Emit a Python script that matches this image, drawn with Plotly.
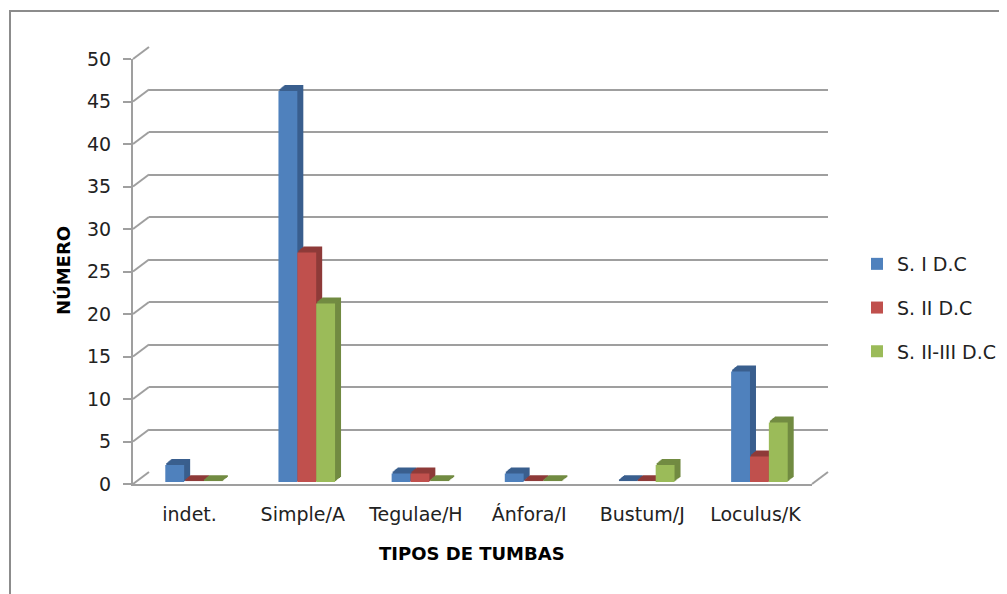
import plotly.graph_objects as go

# data
categories = ['indet.', 'Simple/A', 'Tegulae/H', 'Ánfora/I', 'Bustum/J', 'Loculus/K']
s_i = [2, 46, 1, 1, 0, 13]
s_ii = [0, 27, 1, 0, 0, 3]
s_ii_iii = [0, 21, 0, 0, 2, 7]
series_names = ['S. I D.C', 'S. II D.C', 'S. II-III D.C']
y_ticks = [0, 5, 10, 15, 20, 25, 30, 35, 40, 45, 50]

face_colors = ['#4F81BD', '#C0504D', '#9BBB59']
side_colors = ['#3A5F8E', '#8E3B39', '#728B42']
GRID = '#9F9F9F'
FONT = 'DejaVu Sans'
TXT = '#222222'

PAGE_W, PAGE_H = 1007, 594
OFF = 8  # page body margin
W, H = PAGE_W - OFF, PAGE_H - OFF
Y_MAX = 50
SLAB = 0.15  # so zero-height columns still show their top face


def px(x):
    return (x - OFF) / W


def py(y):
    return 1 - (y - OFF) / H


# page-pixel boxes of the pseudo-3D planes (left, right, y of 0, y of 50)
FRONT = (133, 812, 484, 59)
BACK = (149, 828, 472, 47)
FACE = (137, 816, 482, 57)
DEPTH = 6  # column extrusion in px


def dom(box, dx=0.0, dy=0.0):
    x0, x1, yb, yt = box
    return [px(x0 + dx), px(x1 + dx)], [py(yb + dy), py(yt + dy)]


def y_at(box, v):
    x0, x1, yb, yt = box
    return yb - (yb - yt) * v / Y_MAX


def cat_axis(domain, anchor, **kw):
    return dict(domain=domain, anchor=anchor, type='category', categoryorder='array',
                categoryarray=categories, range=[-0.5, len(categories) - 0.5], **kw)


def holder(n):
    # invisible trace so an axis pair without bars still gets drawn
    return go.Scatter(x=categories, y=s_i, mode='markers', marker=dict(opacity=0),
                      xaxis=f'x{n}', yaxis=f'y{n}', showlegend=False, hoverinfo='skip')


fig = go.Figure()
layout = {}
all_series = [s_i, s_ii, s_ii_iii]

# 1: back wall with gridlines
xd, yd = dom(BACK)
layout['xaxis'] = cat_axis(xd, 'y', visible=False)
layout['yaxis'] = dict(domain=yd, anchor='x', range=[0, Y_MAX], tickvals=y_ticks,
                       showgrid=True, gridcolor=GRID, gridwidth=2, zeroline=False,
                       showticklabels=False, ticks='', showline=False)
fig.add_trace(holder(''))

# 2..7: extrusion layers, deepest first
n = 2
for k in range(DEPTH, 0, -1):
    xd, yd = dom(FACE, dx=k, dy=-0.8 * k)
    layout[f'xaxis{n}'] = cat_axis(xd, f'y{n}', visible=False)
    layout[f'yaxis{n}'] = dict(domain=yd, anchor=f'x{n}', visible=False, range=[0, Y_MAX])
    for vals, name, col in zip(all_series, series_names, side_colors):
        fig.add_trace(go.Bar(
            x=categories, y=[v + SLAB for v in vals], name=name,
            marker=dict(color=col, line=dict(width=0)),
            xaxis=f'x{n}', yaxis=f'y{n}', showlegend=False, hoverinfo='skip'
        ))
    n += 1

# 8: front faces of the columns
xd, yd = dom(FACE)
layout[f'xaxis{n}'] = cat_axis(xd, f'y{n}', visible=False)
layout[f'yaxis{n}'] = dict(domain=yd, anchor=f'x{n}', visible=False, range=[0, Y_MAX])
for vals, name, col in zip(all_series, series_names, face_colors):
    fig.add_trace(go.Bar(
        x=categories, y=vals, name=name, legendgroup=name,
        marker=dict(color=col, line=dict(width=0)),
        xaxis=f'x{n}', yaxis=f'y{n}',
        hovertemplate='%{x}<br>' + name + ': %{y}<extra></extra>'
    ))
n += 1

# 9: front axes carrying ticks and labels
xd, yd = dom(FRONT)
layout[f'xaxis{n}'] = cat_axis(xd, f'y{n}', showline=True, linecolor=GRID, linewidth=2,
                               ticks='', showgrid=False, zeroline=False, ticklabelstandoff=12,
                               automargin=False,
                               tickfont=dict(family=FONT, size=19, color=TXT))
layout[f'yaxis{n}'] = dict(domain=yd, anchor=f'x{n}', range=[0, Y_MAX], tickvals=y_ticks,
                           showline=True, linecolor=GRID, linewidth=2,
                           ticks='outside', ticklen=8, tickwidth=2, tickcolor=GRID,
                           showgrid=False, zeroline=False, ticklabelstandoff=8,
                           automargin=False,
                           tickfont=dict(family=FONT, size=19, color=TXT))
fig.add_trace(holder(n))

# diagonal connectors between front axis and back wall
shapes = []
for v in y_ticks:
    shapes.append(dict(type='line', xref='paper', yref='paper',
                       x0=px(FRONT[0]), y0=py(y_at(FRONT, v)),
                       x1=px(BACK[0]), y1=py(y_at(BACK, v)),
                       line=dict(color=GRID, width=2)))
shapes.append(dict(type='line', xref='paper', yref='paper',
                   x0=px(FRONT[1]), y0=py(FRONT[2]), x1=px(BACK[1]), y1=py(BACK[2]),
                   line=dict(color=GRID, width=2)))
# chart area border
shapes.append(dict(type='rect', xref='paper', yref='paper',
                   x0=px(10), y0=py(11), x1=px(1015), y1=py(605),
                   line=dict(color='#8C8C8C', width=2), layer='below'))

fig.update_layout(
    **layout,
    width=W, height=H, autosize=False,
    margin=dict(l=0, r=0, t=0, b=0, autoexpand=False),
    paper_bgcolor='white', plot_bgcolor='rgba(0,0,0,0)',
    barmode='group', bargap=0.5, bargroupgap=0,
    shapes=shapes,
    annotations=[
        dict(text='<b>TIPOS DE TUMBAS</b>', xref='paper', yref='paper',
             x=px(472), y=py(553), xanchor='center', yanchor='middle', showarrow=False,
             font=dict(family=FONT, size=18, color='#000000')),
        dict(text='<b>NÚMERO</b>', xref='paper', yref='paper', textangle=-90,
             x=px(63), y=py(271), xanchor='center', yanchor='middle', showarrow=False,
             font=dict(family=FONT, size=18, color='#000000')),
    ],
    legend=dict(x=px(857), y=py(308), xanchor='left', yanchor='middle',
                font=dict(family=FONT, size=19, color=TXT),
                tracegroupgap=16, bgcolor='rgba(0,0,0,0)'),
)

fig.write_html('out.html')
